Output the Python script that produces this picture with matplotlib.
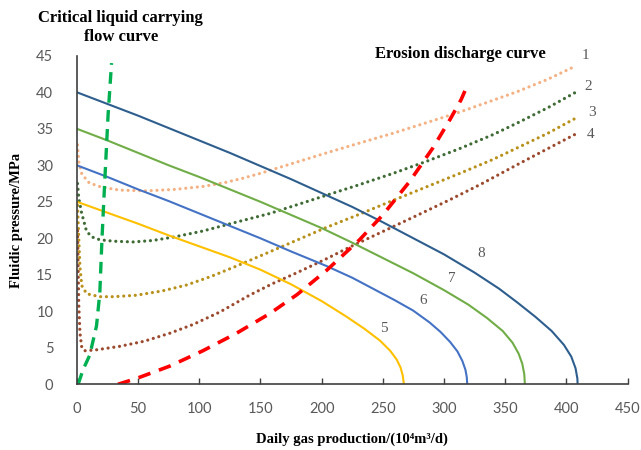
import matplotlib
matplotlib.use("Agg")
import matplotlib.pyplot as plt

# Dotted curves 1-4 (tubing / wellhead pressure vs daily gas production)
x1 = [0.5, 1.5, 4, 10, 20, 35, 57, 80, 103, 120, 135, 150, 175, 204, 230, 258.5, 285, 313, 340, 360, 385, 407.6]
y1 = [32.8, 30.5, 28.8, 27.6, 27.0, 26.6, 26.5, 26.7, 27.1, 27.6, 28.2, 28.9, 30.2, 31.7, 33.0, 34.4, 35.8, 37.3, 38.9, 40.1, 41.8, 43.6]

x2 = [0.5, 1.5, 3.8, 7.8, 12, 18.7, 30, 46, 62, 80, 103, 130, 157.7, 180, 204, 230, 258.5, 285, 313, 340, 360, 385, 407.6]
y2 = [27.5, 25.5, 23.5, 21.0, 20.2, 19.8, 19.6, 19.5, 19.7, 20.2, 21.0, 22.2, 23.4, 24.6, 25.9, 27.3, 28.9, 30.5, 32.3, 34.2, 35.8, 37.9, 40.0]

x3 = [0.5, 1.5, 2.5, 4, 8, 18.7, 30, 48.7, 70, 89.6, 110, 130.5, 150, 175, 204, 231, 258.5, 285, 313, 340, 360, 385, 407]
y3 = [24.5, 20.0, 16.0, 13.5, 12.4, 12.0, 12.0, 12.2, 12.8, 13.6, 14.8, 16.2, 17.6, 19.4, 21.5, 23.3, 25.2, 27.0, 28.9, 30.8, 32.4, 34.4, 36.4]

x4 = [0.5, 1, 1.5, 2.5, 4, 6.5, 15, 35, 55, 76, 95, 116.8, 141, 160, 180, 204, 223, 258.5, 280, 305, 330, 360, 385, 409]
y4 = [21.0, 16.0, 11.0, 7.0, 5.0, 4.6, 4.7, 5.2, 5.9, 7.0, 8.2, 9.9, 12.2, 13.8, 15.3, 17.2, 18.8, 21.6, 23.3, 25.3, 27.4, 30.1, 32.3, 34.4]

# Solid curves 5-8 (inflow curves)
x5 = [0, 25, 50, 75, 100, 125, 150, 175, 200, 220, 235, 247.6, 256, 261.3, 264.5, 266.3, 267.2]
y5 = [25, 23.5, 22.0, 20.4, 18.9, 17.4, 15.7, 13.7, 11.4, 9.3, 7.6, 6.0, 4.6, 3.4, 2.3, 1.2, 0]

x6 = [0, 25, 50, 75, 100, 125, 150, 175, 204, 225, 247.6, 260, 274.8, 288, 297, 305, 311, 315, 317.5, 318.6, 319]
y6 = [30, 28.4, 26.7, 25.1, 23.4, 21.7, 20.0, 18.2, 16.2, 14.6, 12.6, 11.5, 10.1, 8.5, 7.2, 5.8, 4.5, 3.2, 2.0, 1.0, 0]

x7 = [0, 25, 50, 75, 100, 125, 150, 175, 200, 225, 250, 275, 300, 320, 335, 348, 356, 361, 364, 365.6, 366.1]
y7 = [35, 33.4, 31.7, 30.0, 28.4, 26.7, 25.0, 23.2, 21.4, 19.4, 17.3, 15.2, 12.9, 10.9, 9.1, 7.3, 5.7, 4.2, 2.8, 1.4, 0]

x8 = [0, 25, 50, 75, 100, 125, 150, 175, 200, 225, 250, 275, 300, 325, 345, 360, 375, 388, 398, 404, 407.5, 409, 409.2]
y8 = [40, 38.4, 36.8, 35.1, 33.4, 31.7, 29.9, 28.1, 26.2, 24.3, 22.2, 20.0, 17.8, 15.3, 13.1, 11.2, 9.2, 7.3, 5.4, 3.8, 2.2, 0.8, 0]

# Critical liquid carrying flow curve and erosion discharge curve
x_crit = [1, 5, 10.5, 16, 18.7, 20.5, 22.8, 25.5, 28.3]
y_crit = [0, 2, 4, 8, 12.5, 20, 28, 37, 44]

x_ero = [33.5, 48.7, 76, 103, 130.5, 157.7, 180, 204, 231, 250, 272, 291, 305, 314, 320]
y_ero = [0, 0.8, 2.5, 4.6, 7.0, 9.7, 12.3, 15.6, 19.8, 23.2, 27.8, 32.4, 36.3, 39.0, 41.3]

curve_labels = ["1", "2", "3", "4", "5", "6", "7", "8"]
label_x = [416, 418, 420.7, 420, 250.6, 283, 306.2, 330.7]
label_y = [45.0, 40.8, 37.3, 34.2, 7.6, 11.5, 14.5, 17.9]

fig = plt.figure(figsize=(6.41, 4.5), dpi=100)
ax = fig.add_axes([0.120, 0.146, 0.859, 0.730])

dot = (0, (0.01, 1.8))
ax.plot(x1, y1, color="#F4B183", lw=2.3, linestyle=dot, dash_capstyle="round")
ax.plot(x2, y2, color="#3F6B35", lw=2.3, linestyle=dot, dash_capstyle="round")
ax.plot(x3, y3, color="#B8901A", lw=2.3, linestyle=dot, dash_capstyle="round")
ax.plot(x4, y4, color="#9C4A2E", lw=2.3, linestyle=dot, dash_capstyle="round")

ax.plot(x5, y5, color="#FFC000", lw=1.5)
ax.plot(x6, y6, color="#4472C4", lw=1.5)
ax.plot(x7, y7, color="#70AD47", lw=1.5)
ax.plot(x8, y8, color="#2E5E8E", lw=1.5)

ax.plot(x_crit, y_crit, color="#00B050", lw=2.4, linestyle=(0, (3.5, 2.2)))
ax.plot(x_ero, y_ero, color="#FF0000", lw=2.6, linestyle=(0, (3.5, 2.5)))

for lab, lx, ly in zip(curve_labels, label_x, label_y):
    ax.text(lx, ly, lab, fontsize=11, color="#595959", family="Liberation Serif",
            ha="center", va="center", clip_on=False)

ax.text(35.9, 48.9, "Critical liquid carrying\nflow curve", fontsize=12, fontweight="bold",
        family="Liberation Serif", ha="center", va="center", linespacing=1.2, clip_on=False)
ax.text(313, 45.2, "Erosion discharge curve", fontsize=12, fontweight="bold",
        family="Liberation Serif", ha="center", va="center", clip_on=False)

ax.set_xlim(0, 450)
ax.set_ylim(0, 45)
ax.set_xticks(range(0, 451, 50))
ax.set_yticks(range(0, 46, 5))
for s in ["top", "right"]:
    ax.spines[s].set_visible(False)
for s in ["left", "bottom"]:
    ax.spines[s].set_color("#404040")
    ax.spines[s].set_linewidth(1.2)
ax.tick_params(direction="in", length=4, width=1, color="#404040", pad=13,
               labelsize=10.5, labelcolor="#595959")
ax.tick_params(axis="y", length=0, pad=13 + 4)
for t in ax.get_xticklabels() + ax.get_yticklabels():
    t.set_family("Lato")

ax.set_xlabel("Daily gas production/(10⁴m³/d)", fontsize=10.5, fontweight="bold",
              family=["Liberation Serif", "DejaVu Serif"])
ax.set_ylabel("Fluidic pressure/MPa", fontsize=10.5, fontweight="bold", family="Liberation Serif")
ax.xaxis.set_label_coords(0.5, -0.166)
ax.xaxis.label.set_va("center")
ax.yaxis.set_label_coords(-0.109, 0.5)
ax.yaxis.label.set_va("center")

plt.savefig("out.png", dpi=100)
